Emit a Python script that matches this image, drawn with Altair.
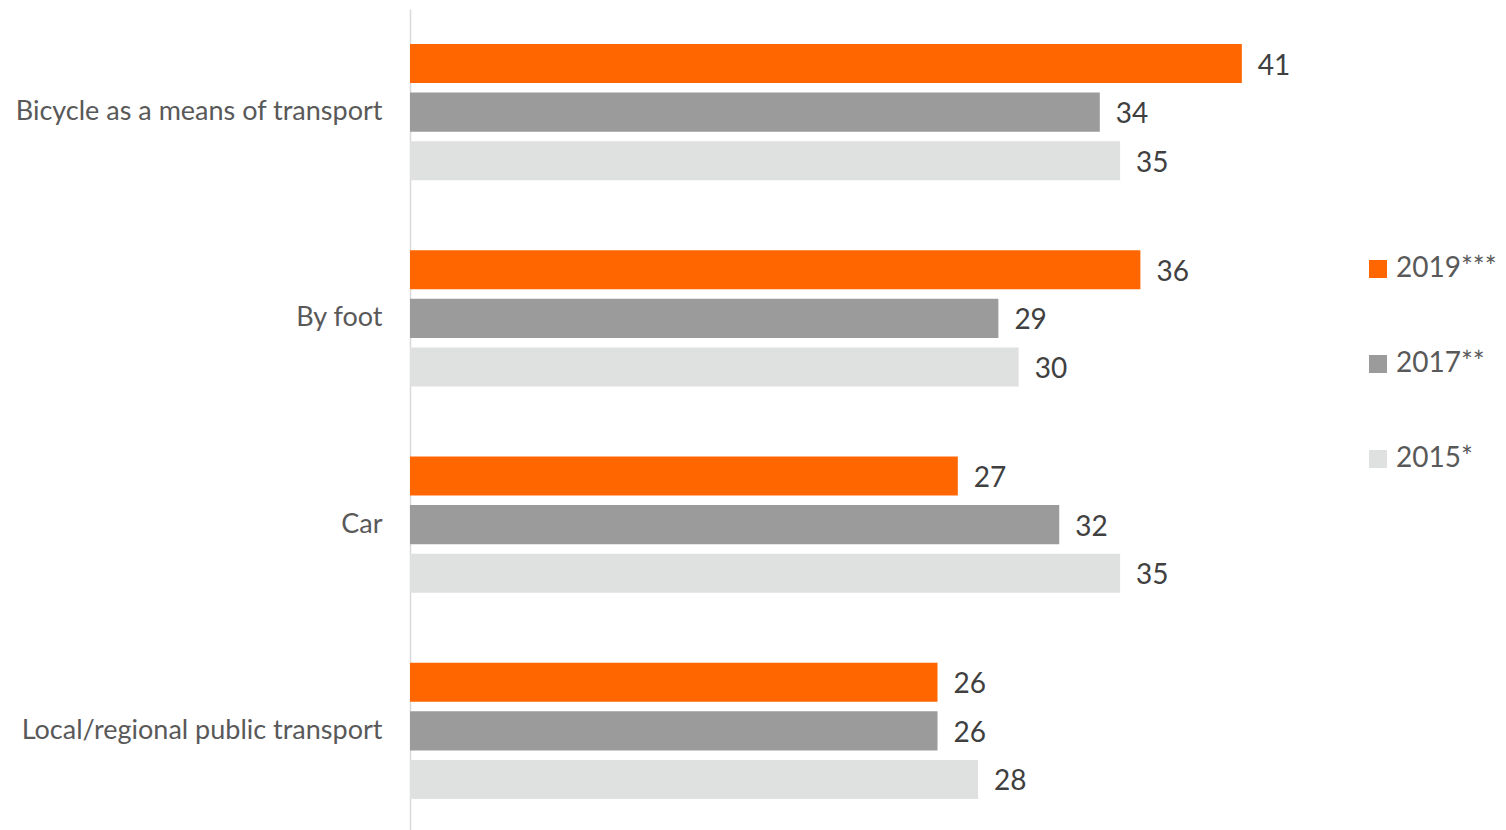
import altair as alt
import pandas as pd

categories = ["Bicycle as a means of transport", "By foot", "Car", "Local/regional public transport"]
series = ["2019***", "2017**", "2015*"]
v2019 = [41, 36, 27, 26]
v2017 = [34, 29, 32, 26]
v2015 = [35, 30, 35, 28]
colors = ["#FF6600", "#9B9B9B", "#DFE0E0"]

rows = []
for s, vals in zip(series, [v2019, v2017, v2015]):
    for c, v in zip(categories, vals):
        rows.append({"category": c, "series": s, "value": v})
df = pd.DataFrame(rows)

FONT = "Lato"

base = alt.Chart(df).encode(
    y=alt.Y(
        "category:N",
        sort=categories,
        scale=alt.Scale(paddingInner=0.34, paddingOuter=0.17),
        axis=alt.Axis(
            title=None, ticks=False, labelFontSize=27, labelColor="#595959",
            labelPadding=28, domainColor="#D9D9D9", domainWidth=1.5,
            labelFont=FONT, labelLimit=500,
        ),
    ),
    yOffset=alt.YOffset("series:N", sort=series,
                        scale=alt.Scale(paddingInner=0.196, paddingOuter=0)),
)

bars = base.mark_bar().encode(
    x=alt.X("value:Q", scale=alt.Scale(domain=[0, 45]), axis=None),
    color=alt.Color(
        "series:N", sort=series,
        scale=alt.Scale(domain=series, range=colors),
        legend=alt.Legend(
            title=None, orient="none", legendX=954, legendY=246,
            symbolType="square", symbolSize=324, symbolStrokeWidth=0,
            labelFontSize=28, labelColor="#595959", labelFont=FONT,
            labelOffset=4, rowPadding=67, labelLimit=200,
        ),
    ),
)

text = base.mark_text(align="left", baseline="middle", dx=16, dy=3, fontSize=28,
                      color="#404040", font=FONT).encode(
    x=alt.X("value:Q"),
    text=alt.Text("value:Q"),
)

chart = (bars + text).properties(
    width=913, height=825,
    autosize=alt.AutoSizeParams(type="none"),
    padding={"left": 402, "top": 1, "right": 175, "bottom": 0},
).configure_view(stroke=None).configure_axis(grid=False)

chart.save("out.html", embed_options={"renderer": "svg", "actions": False})
